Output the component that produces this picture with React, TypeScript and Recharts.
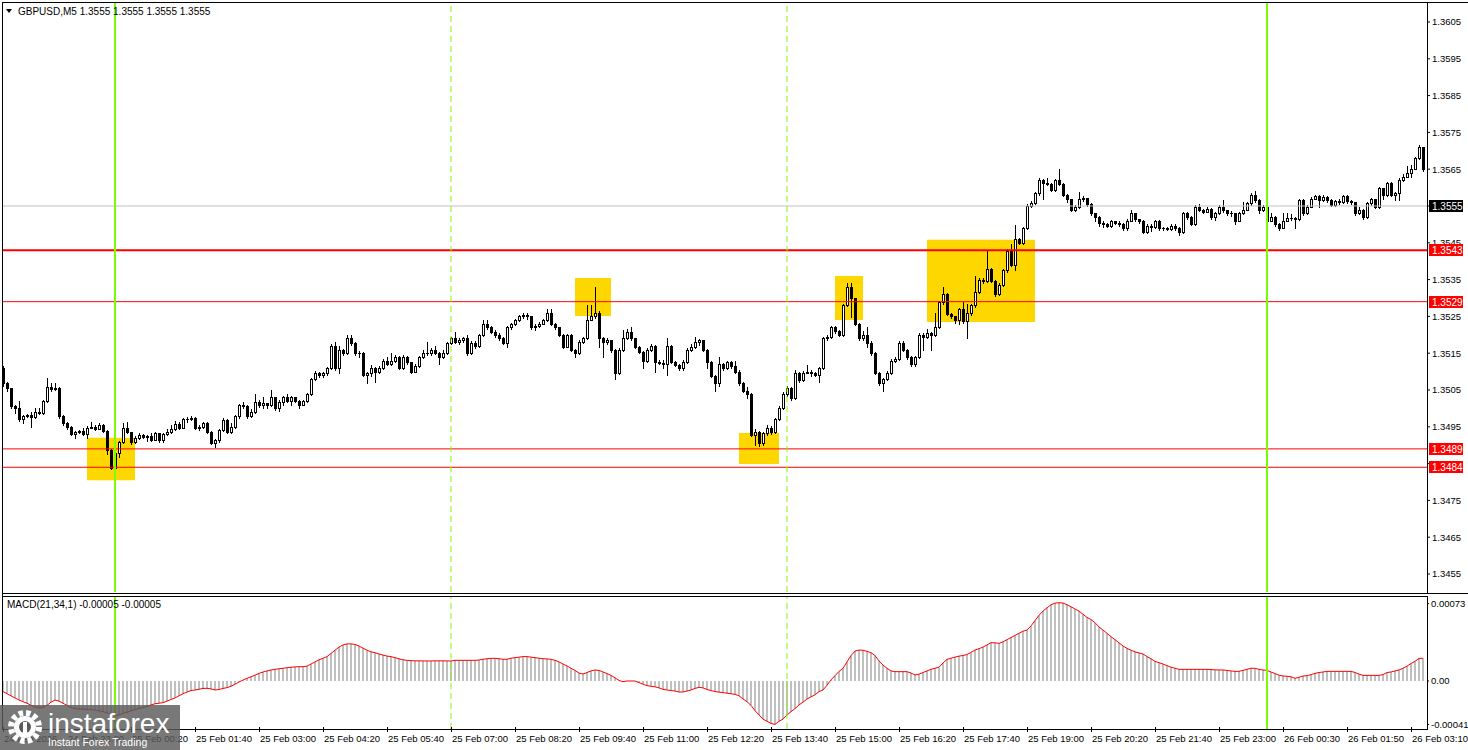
import React from "react";
import {
  ComposedChart,
  Bar,
  Line,
  XAxis,
  YAxis,
  ReferenceLine,
  ReferenceArea,
} from "recharts";

// prices are kept in pips above BASE_PRICE
const BASE_PRICE = 1.34;
const PIP = 0.0001;
const FIRST_OPEN = 111.0;

const closes = [
  106.8, 105.5, 100.7, 100.2, 97.0, 97.9, 98.2, 97.6, 99.1, 98.8,
  102.0, 105.9, 105.2, 105.5, 97.9, 95.9, 94.9, 93.0, 93.5, 93.8,
  93.0, 94.8, 95.0, 94.5, 95.5, 93.8, 88.7, 83.8, 87.8, 90.8,
  94.8, 93.5, 90.8, 91.9, 92.9, 92.2, 92.6, 91.5, 93.2, 91.3,
  93.0, 93.5, 94.4, 95.8, 94.8, 97.0, 97.2, 97.4, 94.8, 95.0,
  96.0, 93.7, 90.6, 91.3, 94.0, 96.9, 93.7, 95.0, 97.8, 100.9,
  100.6, 97.8, 99.0, 101.8, 100.9, 101.4, 100.9, 103.0, 100.0, 101.8,
  103.0, 102.0, 103.0, 102.0, 101.0, 102.0, 103.9, 107.9, 109.5, 109.0,
  109.5, 110.9, 117.0, 110.9, 115.9, 115.0, 119.0, 117.7, 115.0, 115.0,
  109.0, 109.5, 111.0, 110.0, 111.0, 113.0, 112.0, 113.0, 114.0, 111.0,
  114.0, 112.5, 110.0, 111.5, 114.0, 115.0, 115.0, 116.0, 115.0, 114.0,
  115.0, 117.7, 119.0, 118.0, 118.5, 119.0, 115.0, 117.9, 117.0, 119.9,
  122.9, 122.0, 120.8, 120.0, 119.0, 117.9, 122.0, 122.9, 124.0, 125.0,
  125.4, 125.0, 122.0, 122.5, 123.0, 124.0, 126.0, 123.0, 122.0, 120.0,
  116.8, 119.9, 115.9, 115.0, 118.1, 119.0, 124.0, 125.0, 126.0, 119.0,
  118.0, 118.5, 116.0, 109.7, 115.9, 119.0, 120.8, 119.0, 116.8, 115.4,
  113.0, 115.9, 117.0, 112.7, 112.4, 112.0, 117.0, 112.7, 111.8, 110.9,
  112.7, 115.9, 116.8, 118.0, 118.5, 116.0, 112.7, 108.8, 106.8, 112.0,
  111.0, 112.6, 111.5, 110.0, 106.8, 104.8, 103.9, 92.8, 93.7, 90.5,
  93.2, 94.8, 93.5, 97.0, 100.0, 103.9, 105.5, 102.7, 109.7, 107.7,
  109.7, 110.0, 109.5, 109.0, 110.9, 119.0, 119.3, 122.0, 121.0, 120.0,
  128.0, 133.0, 129.9, 123.0, 119.0, 120.0, 117.9, 115.0, 109.7, 106.8,
  107.9, 109.7, 113.0, 113.5, 117.9, 115.9, 113.9, 112.0, 113.9, 120.0,
  119.5, 120.4, 120.0, 122.2, 128.8, 131.0, 125.7, 125.0, 124.0, 126.9,
  123.7, 125.8, 128.0, 131.7, 134.9, 134.5, 137.8, 134.7, 131.0, 133.5,
  137.5, 142.9, 139.0, 146.0, 145.0, 149.0, 155.0, 155.9, 158.4, 162.0,
  161.2, 161.0, 159.4, 162.0, 161.0, 158.0, 156.8, 154.0, 154.8, 156.8,
  157.2, 155.5, 153.0, 152.0, 150.4, 150.0, 149.6, 150.8, 150.4, 150.0,
  149.0, 151.0, 153.0, 151.4, 151.0, 148.0, 149.5, 149.2, 150.9, 149.0,
  148.9, 148.8, 149.5, 149.0, 147.8, 153.0, 152.0, 150.1, 154.8, 154.0,
  153.5, 154.2, 152.0, 153.0, 154.8, 153.8, 153.0, 153.0, 151.0, 153.0,
  154.0, 155.7, 158.0, 156.6, 154.0, 154.8, 151.0, 152.0, 150.0, 149.0,
  151.0, 151.7, 151.7, 151.5, 156.6, 153.0, 154.8, 157.0, 157.7, 156.6,
  157.5, 156.6, 155.4, 156.3, 156.0, 157.7, 156.3, 156.0, 153.0, 153.9,
  152.0, 155.7, 156.8, 154.8, 159.8, 158.0, 161.2, 158.0, 158.4, 162.1,
  163.0, 163.9, 165.0, 168.0, 171.0, 165.0,
];

const highs = [
  111.5, 107.2, 105.6, 100.9, 102.0, 98.3, 98.4, 99.1, 100.0, 100.0,
  102.3, 108.2, 107.0, 107.0, 105.8, 98.2, 96.2, 95.2, 93.8, 94.1,
  94.8, 95.2, 96.2, 95.4, 96.0, 95.8, 94.0, 88.9, 88.2, 91.1,
  96.0, 96.2, 93.7, 92.6, 93.2, 93.0, 92.9, 93.2, 93.6, 93.4,
  93.4, 94.5, 95.4, 96.6, 96.2, 97.4, 97.6, 97.8, 97.6, 95.6,
  96.4, 96.2, 93.9, 91.7, 94.5, 97.4, 97.1, 96.0, 98.2, 101.3,
  101.8, 100.8, 99.8, 103.9, 102.2, 103.2, 101.6, 105.0, 103.2, 102.2,
  103.4, 103.9, 103.4, 103.2, 102.2, 102.3, 104.3, 108.3, 110.2, 109.8,
  110.0, 111.3, 117.5, 118.1, 117.0, 116.2, 120.0, 120.0, 118.0, 115.6,
  115.2, 110.0, 111.8, 111.2, 111.4, 113.4, 114.0, 115.0, 114.4, 114.2,
  114.4, 114.2, 112.7, 112.0, 114.3, 116.0, 118.0, 116.4, 117.0, 115.2,
  115.8, 118.0, 119.4, 120.8, 119.0, 119.5, 120.0, 118.3, 118.2, 120.3,
  124.0, 124.0, 122.4, 121.2, 120.4, 119.3, 122.4, 123.3, 124.4, 125.4,
  125.8, 125.8, 125.2, 122.9, 123.4, 124.4, 127.0, 127.0, 123.3, 122.2,
  120.3, 120.3, 120.2, 116.2, 118.5, 119.5, 128.0, 128.0, 133.0, 126.4,
  119.3, 119.0, 118.7, 116.2, 116.3, 121.3, 121.5, 122.0, 119.2, 117.0,
  115.6, 116.3, 117.5, 117.2, 113.2, 113.1, 119.0, 117.3, 113.0, 112.2,
  113.1, 116.3, 117.6, 119.5, 118.9, 118.7, 116.2, 113.0, 109.0, 113.9,
  112.3, 113.0, 112.9, 113.0, 110.3, 107.2, 105.8, 104.2, 94.5, 93.9,
  93.6, 95.5, 95.2, 97.4, 100.6, 104.4, 106.0, 105.8, 110.5, 110.0,
  110.1, 111.8, 110.4, 110.0, 111.3, 119.4, 120.0, 122.4, 122.3, 121.3,
  128.4, 134.0, 134.0, 130.0, 123.2, 121.0, 122.0, 118.2, 115.3, 110.0,
  108.3, 110.1, 113.4, 114.0, 118.3, 118.2, 116.2, 114.2, 114.3, 120.4,
  120.4, 121.5, 120.8, 125.8, 129.2, 133.0, 131.3, 126.0, 125.2, 127.3,
  129.0, 128.5, 128.4, 136.0, 135.3, 135.4, 143.0, 138.2, 135.0, 134.0,
  138.0, 143.3, 144.8, 149.8, 146.4, 149.4, 155.5, 156.3, 158.8, 162.6,
  162.3, 162.5, 161.3, 162.4, 165.0, 161.2, 158.2, 157.0, 155.2, 158.9,
  157.6, 157.3, 155.8, 153.2, 152.3, 150.8, 150.4, 151.2, 151.0, 150.8,
  150.3, 151.4, 154.0, 153.2, 151.6, 151.2, 150.0, 150.0, 151.3, 151.2,
  149.4, 149.4, 150.2, 150.0, 149.3, 153.4, 153.3, 152.2, 155.2, 155.6,
  154.2, 154.6, 154.4, 153.4, 155.2, 156.6, 154.0, 153.6, 153.2, 153.4,
  156.2, 156.1, 158.4, 159.1, 156.8, 155.2, 155.0, 153.0, 152.2, 150.3,
  153.0, 153.0, 152.8, 152.0, 157.0, 156.8, 155.2, 157.4, 158.1, 157.9,
  157.9, 157.7, 156.8, 156.7, 156.9, 158.1, 157.9, 156.6, 156.2, 154.6,
  154.2, 156.1, 157.2, 157.0, 160.2, 159.9, 161.6, 161.4, 158.8, 162.5,
  163.6, 166.0, 166.1, 168.4, 171.6, 171.1,
];

const lows = [
  106.0, 104.8, 100.2, 98.8, 96.5, 95.9, 97.6, 94.9, 97.5, 98.5,
  98.6, 101.8, 104.6, 105.0, 97.5, 95.5, 94.5, 92.7, 92.0, 93.2,
  92.8, 91.9, 94.6, 94.2, 94.4, 93.5, 87.6, 83.6, 83.8, 86.9,
  90.5, 93.2, 90.4, 90.5, 91.6, 91.9, 91.2, 91.2, 91.3, 91.0,
  91.0, 92.8, 93.3, 94.2, 94.5, 94.6, 96.2, 96.8, 94.4, 94.2,
  94.6, 93.4, 90.2, 89.5, 91.0, 93.8, 93.3, 93.3, 94.8, 97.5,
  100.0, 97.4, 97.6, 98.7, 100.5, 100.0, 100.0, 100.7, 99.6, 99.2,
  100.8, 101.7, 100.9, 101.7, 100.0, 100.8, 101.7, 103.7, 107.6, 108.6,
  108.6, 109.2, 110.7, 110.5, 109.5, 114.6, 114.8, 117.3, 114.6, 114.0,
  108.8, 107.0, 108.8, 107.2, 109.7, 110.8, 111.7, 111.8, 112.7, 110.7,
  110.8, 112.2, 109.6, 110.0, 111.3, 113.8, 114.6, 114.4, 114.7, 112.1,
  113.8, 114.8, 117.4, 117.7, 117.6, 118.0, 114.6, 114.8, 116.5, 116.8,
  119.7, 121.6, 120.4, 119.4, 118.6, 117.5, 116.8, 121.7, 122.7, 123.8,
  124.6, 124.2, 121.6, 121.4, 122.2, 122.8, 123.8, 122.6, 121.6, 119.6,
  116.4, 116.6, 115.5, 113.9, 114.8, 117.8, 118.8, 124.0, 124.5, 116.8,
  114.0, 117.6, 115.2, 107.9, 109.4, 115.7, 118.8, 118.6, 116.4, 115.0,
  110.9, 112.7, 115.5, 110.0, 112.0, 110.9, 109.1, 112.3, 111.4, 110.5,
  110.5, 112.4, 115.5, 116.5, 117.3, 115.6, 110.9, 108.4, 104.8, 106.1,
  110.5, 110.6, 111.1, 109.6, 106.4, 104.4, 102.7, 92.4, 90.0, 89.8,
  90.1, 92.8, 93.1, 93.2, 96.8, 99.8, 103.5, 102.3, 102.5, 107.3,
  107.4, 109.5, 108.7, 108.7, 107.3, 110.6, 118.6, 119.0, 120.6, 119.6,
  119.8, 127.8, 124.9, 122.7, 118.6, 118.6, 116.8, 114.6, 109.3, 106.4,
  104.8, 107.6, 109.4, 112.6, 113.2, 115.5, 113.5, 111.6, 111.6, 113.6,
  115.9, 119.2, 115.9, 119.6, 121.9, 128.5, 125.3, 124.6, 123.3, 122.8,
  123.3, 119.0, 125.4, 127.6, 131.4, 134.0, 134.3, 134.3, 130.6, 130.7,
  133.2, 137.2, 138.6, 137.6, 144.6, 144.7, 148.7, 154.6, 155.6, 158.1,
  157.0, 160.6, 159.0, 159.1, 160.6, 157.6, 156.2, 153.6, 153.6, 154.4,
  156.4, 155.1, 152.6, 150.8, 149.6, 149.3, 149.2, 149.4, 150.0, 149.6,
  148.6, 148.6, 150.8, 151.0, 150.4, 147.6, 147.7, 148.2, 149.0, 148.6,
  148.5, 148.4, 148.6, 148.6, 147.2, 147.6, 151.6, 149.7, 149.9, 153.6,
  153.0, 153.3, 151.6, 151.2, 152.7, 153.4, 152.6, 152.2, 150.1, 150.8,
  152.8, 153.8, 155.4, 156.2, 153.0, 153.6, 150.6, 151.0, 149.6, 148.6,
  149.9, 151.2, 151.2, 148.9, 151.2, 152.6, 152.7, 154.6, 156.8, 154.8,
  156.4, 156.2, 155.0, 155.1, 155.6, 155.8, 155.9, 155.6, 152.6, 152.8,
  151.6, 151.8, 155.4, 154.4, 154.5, 157.0, 157.8, 157.6, 156.6, 156.6,
  161.8, 163.0, 163.0, 165.8, 167.9, 164.6,
];

// MACD(21,34,1) in units of 0.00001
const macdValues = [
  -10, -12, -14, -16, -18, -19.5, -21, -23, -24.5, -25.5,
  -25, -23, -20, -18, -19, -21, -23, -25, -26, -26.5,
  -26.5, -27, -27, -27.5, -28, -29, -30, -31.5, -33, -32,
  -30.5, -29.5, -28, -27, -26, -25, -24, -22.5, -21.5, -21,
  -20.4, -19, -17.5, -16, -14, -12, -10.5, -9, -8.5, -7.8,
  -7, -6.9, -7.5, -8.5, -8, -7, -6.3, -5, -3, -1,
  0.9, 2.5, 4, 5.5, 7.2, 8.5, 9.5, 10.4, 11, 11.5,
  12, 12.5, 13, 13.3, 13.5, 13.5, 14, 16, 18, 20,
  21.4, 23, 26, 29, 32, 34, 35, 35, 34.5, 33,
  31, 29, 27.5, 26.7, 25.5, 24.5, 23.5, 23, 22, 21,
  20, 19.5, 19.2, 19, 19, 18.9, 18.9, 18.9, 19, 19,
  19, 18.9, 18.9, 19.5, 19.5, 19.5, 19.5, 19.5, 19.5, 19.8,
  20.5, 21, 21.4, 21.4, 21, 20.5, 20.5, 21.5, 22, 22.5,
  23, 23, 22.5, 22, 21.5, 21, 20.8, 20.5, 19.5, 18,
  16, 14.2, 12, 10, 7.5, 6.6, 8, 9.5, 10.4, 10,
  8.5, 7, 5.3, 3, 0.5, -0.6, 0, 0, 0, -1.5,
  -3, -4.4, -5, -5.5, -6.5, -7.9, -8.5, -9, -9.5, -10.4,
  -10.4, -9.5, -8.5, -7, -6, -6.5, -8, -9, -10, -10.5,
  -11, -11.5, -12, -12.6, -14, -17, -19.5, -23, -28, -32,
  -36, -38, -40, -41, -38, -36, -32, -29, -26, -22.6,
  -20, -17, -15, -13, -10, -8.5, -4, 1, 5, 9,
  12, 18, 24, 28.3, 29.2, 29, 28, 26.7, 24, 19,
  15.1, 12, 9.5, 8.8, 8.8, 8.8, 8.8, 7.5, 5.7, 6.5,
  8, 9.5, 11, 12, 13, 17, 20.4, 21.5, 22.5, 23.5,
  24, 25, 27, 29.2, 30.5, 32, 34, 36.2, 36, 35.5,
  37, 39, 41, 43, 45, 47, 48, 52, 57, 62,
  66, 69, 72, 73.5, 73.9, 73.5, 72, 70, 68, 66,
  63, 60, 58, 55, 51, 48, 45, 41.8, 39, 36,
  33, 30.8, 29, 27.5, 26.5, 25.5, 23, 21, 18.5, 17.3,
  16, 14.5, 13, 12, 11, 11, 11, 11, 11, 11,
  11, 11, 10.8, 10.5, 10.4, 10.4, 10, 9.5, 9.1, 9.1,
  10, 11, 12, 12, 11, 10.4, 10, 8.5, 7, 5.5,
  4.7, 4.5, 4, 2.5, 3.5, 4.7, 5, 6, 7.2, 8,
  8.5, 9.1, 9.1, 9.1, 9.1, 9.1, 9.1, 9.1, 8, 6.5,
  5.3, 5.3, 5.3, 5.3, 5.3, 6, 8, 8.5, 9.5, 10.4,
  12, 14, 16.5, 18.5, 21.4, 21.4,
];

const priceTicks = [
  1.3455, 1.3465, 1.3475, 1.3485, 1.3495, 1.3505, 1.3515, 1.3525,
  1.3535, 1.3545, 1.3555, 1.3565, 1.3575, 1.3585, 1.3595, 1.3605,
];
const macdTicks = [73, 0, -41];

const timeTickBars = [
  0, 16, 32, 48, 64, 80, 96, 112, 128, 144, 160, 176,
  192, 208, 224, 240, 256, 272, 288, 304, 320, 336, 352,
];
const timeTickLabels = [
  "24 Feb 2026", "24 Feb 23:00", "25 Feb 00:20", "25 Feb 01:40", "25 Feb 03:00",
  "25 Feb 04:20", "25 Feb 05:40", "25 Feb 07:00", "25 Feb 08:20", "25 Feb 09:40",
  "25 Feb 11:00", "25 Feb 12:20", "25 Feb 13:40", "25 Feb 15:00", "25 Feb 16:20",
  "25 Feb 17:40", "25 Feb 19:00", "25 Feb 20:20", "25 Feb 21:40", "25 Feb 23:00",
  "26 Feb 00:30", "26 Feb 01:50", "26 Feb 03:10",
];

const redLevels = [1.3543, 1.3529, 1.3489, 1.3484];
const redLevelWidths = [2, 1, 1, 1];
const bidPrice = 1.3555;

const dayStartBars = [28, 316];
const sessionBars = [112, 196];

// highlighted zones: bar range and price range (pips above base)
const zoneFromBar = [21, 143, 184, 208, 231];
const zoneToBar = [33, 152, 194, 215, 258];
const zoneTopPips = [92.0, 135.4, 93.3, 136.0, 145.8];
const zoneBottomPips = [80.5, 125.1, 84.9, 124.0, 123.5];

const toPrice = (p: number) => BASE_PRICE + p * PIP;

const candles = closes.map((c, i) => {
  const open = i === 0 ? FIRST_OPEN : closes[i - 1];
  return {
    k: i,
    open: toPrice(open),
    close: toPrice(c),
    high: toPrice(Math.max(highs[i], open, c)),
    low: toPrice(Math.min(lows[i], open, c)),
  };
});

const macdData = macdValues.map((v, i) => ({ k: i, macd: v }));

const FONT = "'Liberation Sans', Arial, sans-serif";
const PRICE_DOMAIN = [1.345011, 1.361016];

function Candle(props: any) {
  const { x, y, width, height, payload } = props;
  if (x == null || !payload) return null;
  const top = Math.min(y, y + height);
  const h = Math.abs(height);
  const { open, close, high, low } = payload;
  const span = high - low;
  const py = (v: number) => (span > 0 ? top + ((high - v) / span) * h : top);
  const cx = Math.round(x + width / 2);
  const yH = Math.round(py(high));
  const yL = Math.round(py(low));
  const yO = Math.round(py(open));
  const yC = Math.round(py(close));
  const bTop = Math.min(yO, yC);
  const bBot = Math.max(yO, yC);
  let body;
  if (bBot - bTop < 1) {
    body = <line x1={cx - 1} x2={cx + 2} y1={bTop + 0.5} y2={bTop + 0.5} stroke="#000" />;
  } else if (close > open) {
    body = <rect x={cx - 0.5} y={bTop + 0.5} width={2} height={bBot - bTop} fill="#fff" stroke="#000" />;
  } else {
    body = <rect x={cx - 1} y={bTop} width={3} height={bBot - bTop + 1} fill="#000" />;
  }
  return (
    <g>
      <line x1={cx + 0.5} x2={cx + 0.5} y1={yH} y2={yL + 1} stroke="#000" />
      {body}
    </g>
  );
}

const priceTag = (text: string, bg: string) => (props: any) => {
  const vb = props.viewBox || {};
  const x = (vb.x || 0) + (vb.width || 0) + 2;
  const y = Math.round(vb.y || 0);
  return (
    <g>
      <rect x={x} y={y - 6} width={34} height={12} fill={bg} />
      <text x={x + 3} y={y + 4} fill="#fff" fontSize={10} fontFamily={FONT}>
        {text}
      </text>
    </g>
  );
};

function TimeTick(props: any) {
  const { x, y, payload } = props;
  const idx = timeTickBars.indexOf(payload.value);
  return (
    <g>
      <line x1={x + 0.5} x2={x + 0.5} y1={y - 2} y2={y + 3} stroke="#000" />
      <text x={x + 1} y={y + 13} fontSize={9.5} fontFamily={FONT} fill="#000">
        {timeTickLabels[idx]}
      </text>
    </g>
  );
}

export default function App() {
  return (
    <div style={{ position: "absolute", left: 0, top: 0, width: 1468, height: 750, background: "#fff", overflow: "hidden", fontFamily: FONT }}>
      <div style={{ position: "absolute", left: 0, top: 0 }}>
        <ComposedChart width={1468} height={592} data={candles} margin={{ top: 3, right: 0, bottom: 0, left: 3 }}>
          <XAxis dataKey="k" type="number" domain={[0, 356]} hide allowDataOverflow />
          <YAxis
            orientation="right"
            width={41}
            domain={PRICE_DOMAIN}
            allowDataOverflow
            ticks={priceTicks}
            interval={0}
            tickFormatter={(v: number) => v.toFixed(4)}
            axisLine={false}
            tickSize={3}
            tickLine={{ stroke: "#000" }}
            tick={{ fill: "#000", fontSize: 9.5, fontFamily: FONT }}
          />
          {zoneFromBar.map((from, i) => (
            <ReferenceArea
              key={"z" + i}
              x1={from}
              x2={zoneToBar[i]}
              y1={toPrice(zoneBottomPips[i])}
              y2={toPrice(zoneTopPips[i])}
              fill="#FFD700"
              fillOpacity={1}
              stroke="none"
            />
          ))}
          <Bar
            dataKey={(d: any) => [d.low, d.high]}
            barSize={3}
            shape={<Candle />}
            isAnimationActive={false}
          />
          <ReferenceLine y={bidPrice} stroke="#C0C0C0" strokeWidth={1} />
          {redLevels.map((lv, i) => (
            <ReferenceLine key={"r" + i} y={lv} stroke="#FF0000" strokeWidth={redLevelWidths[i]} />
          ))}
          {sessionBars.map((b) => (
            <ReferenceLine key={"s" + b} x={b} stroke="#7CFC00" strokeDasharray="6 4" strokeWidth={1} />
          ))}
          {dayStartBars.map((b) => (
            <ReferenceLine key={"d" + b} x={b} stroke="#7CFC00" strokeWidth={2} />
          ))}
        </ComposedChart>
      </div>

      {/* price tags drawn above the axis labels, same scale as the main chart */}
      <div style={{ position: "absolute", left: 0, top: 0, pointerEvents: "none" }}>
        <ComposedChart width={1468} height={592} data={candles} margin={{ top: 3, right: 0, bottom: 0, left: 3 }}>
          <XAxis dataKey="k" type="number" domain={[0, 356]} hide allowDataOverflow />
          <YAxis orientation="right" width={41} domain={PRICE_DOMAIN} allowDataOverflow tick={false} axisLine={false} tickLine={false} />
          <ReferenceLine y={bidPrice} stroke="none" label={priceTag(bidPrice.toFixed(4), "#000")} />
          {redLevels.map((lv, i) => (
            <ReferenceLine key={"t" + i} y={lv} stroke="none" label={priceTag(lv.toFixed(4), "#FF0000")} />
          ))}
        </ComposedChart>
      </div>

      <div style={{ position: "absolute", left: 0, top: 596 }}>
        <ComposedChart width={1468} height={154} data={macdData} margin={{ top: 0, right: 0, bottom: 0, left: 3 }}>
          <XAxis
            dataKey="k"
            type="number"
            domain={[0, 356]}
            allowDataOverflow
            ticks={timeTickBars}
            interval={0}
            height={21}
            axisLine={false}
            tickLine={false}
            tickMargin={0}
            tickSize={0}
            tick={<TimeTick />}
          />
          <YAxis
            orientation="right"
            width={41}
            domain={[-45.3, 80.2]}
            allowDataOverflow
            ticks={macdTicks}
            interval={0}
            tickFormatter={(v: number) => (v === 0 ? "0.00" : (v / 100000).toFixed(5))}
            axisLine={false}
            tickSize={2}
            tickLine={{ stroke: "#000" }}
            tick={{ fill: "#000", fontSize: 9.5, fontFamily: FONT }}
          />
          <Bar dataKey="macd" fill="#C0C0C0" barSize={2} isAnimationActive={false} />
          <Line dataKey="macd" type="linear" stroke="#FF0000" strokeWidth={1} dot={false} isAnimationActive={false} />
          {sessionBars.map((b) => (
            <ReferenceLine key={"ms" + b} x={b} stroke="#7CFC00" strokeDasharray="6 4" strokeWidth={1} />
          ))}
          {dayStartBars.map((b) => (
            <ReferenceLine key={"md" + b} x={b} stroke="#7CFC00" strokeWidth={2} />
          ))}
        </ComposedChart>
      </div>

      <svg width={1468} height={750} style={{ position: "absolute", left: 0, top: 0, pointerEvents: "none" }}>
        <g stroke="#000" strokeWidth={1} shapeRendering="crispEdges">
          <line x1={2} x2={1468} y1={2.5} y2={2.5} />
          <line x1={2.5} x2={2.5} y1={2} y2={730} />
          <line x1={1427.5} x2={1427.5} y1={2} y2={593} />
          <line x1={2} x2={1468} y1={593.5} y2={593.5} />
          <line x1={2} x2={1428} y1={596.5} y2={596.5} />
          <line x1={1427.5} x2={1427.5} y1={596} y2={730} />
          <line x1={2} x2={1428} y1={729.5} y2={729.5} />
        </g>
        <path d="M6 9 L12 9 L9 13 Z" fill="#000" />
        <text x={18} y={15} fontSize={10} fontFamily={FONT} fill="#000">
          GBPUSD,M5  1.3555 1.3555 1.3555 1.3555
        </text>
        <text x={7} y={608} fontSize={10} fontFamily={FONT} fill="#000">
          MACD(21,34,1) -0.00005 -0.00005
        </text>
        <g>
          <rect x={0} y={705} width={180} height={45} fill="#5a5a5a" fillOpacity={0.82} />
          <circle cx={25} cy={727} r={14} fill="none" stroke="#fff" strokeWidth={6} strokeDasharray="4.4 3" />
          <circle cx={25} cy={727} r={11} fill="#fff" />
          <circle cx={25} cy={727} r={6} fill="#5a5a5a" />
          <rect x={23} y={722} width={4} height={14} fill="#fff" />
          <text x={48} y={733} fontSize={28} fontFamily={FONT} fill="#fff">
            instaforex
          </text>
          <text x={48} y={746} fontSize={10.5} fontFamily={FONT} fill="#fff">
            Instant Forex Trading
          </text>
        </g>
      </svg>
    </div>
  );
}
